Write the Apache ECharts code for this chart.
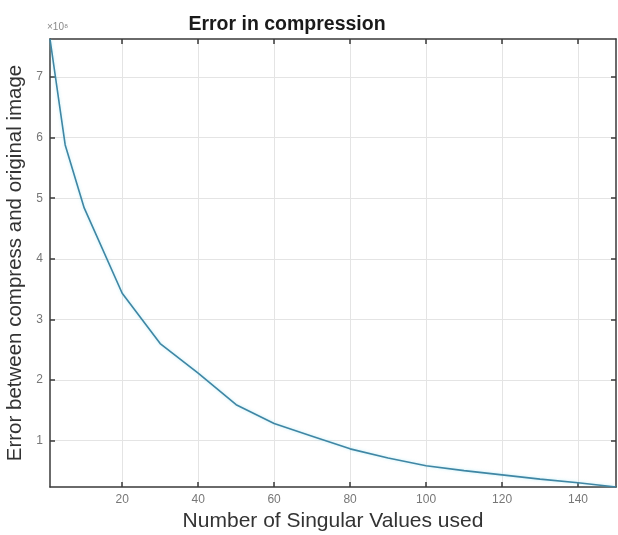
<!DOCTYPE html>
<html>
<head>
<meta charset="utf-8">
<script src="https://cdn.jsdelivr.net/npm/echarts@6/dist/echarts.min.js"></script>
<style>html,body{margin:0;padding:0;background:#fff}#c{width:618px;height:535px}</style>
</head>
<body>
<div id="c"></div>
<script>
// Number of singular values used
const singularValues = [1, 5, 10, 20, 30, 40, 50, 60, 70, 80, 90, 100, 110, 120, 130, 140, 150];
// Error (in units of 1e8)
const errorValues = [7.63, 5.88, 4.84, 3.43, 2.60, 2.11, 1.59, 1.28, 1.07, 0.86, 0.71, 0.58, 0.50, 0.43, 0.36, 0.30, 0.23];
const xTicks = [20, 40, 60, 80, 100, 120, 140];
const yTicks = [1, 2, 3, 4, 5, 6, 7];
const exponentLabel = '×10⁸';

const chart = echarts.init(document.getElementById('c'), null, {renderer: 'canvas'});
const font = '"Liberation Sans", Arial, sans-serif';
const axisCommon = {
  axisLine: {show: true, lineStyle: {color: '#3a3a3a', width: 1.5}},
  axisTick: {show: true, inside: true, length: 5, lineStyle: {color: '#3a3a3a', width: 1.5}}
};
chart.setOption({
  animation: false,
  backgroundColor: '#fff',
  title: {
    text: 'Error in compression',
    left: 282, top: 10, textAlign: 'center',
    textStyle: {fontFamily: font, fontWeight: 'bold', fontSize: 19.5, color: '#1a1a1a'}
  },
  grid: {left: 50, right: 2, top: 39, bottom: 48, containLabel: false, outerBoundsMode: 'none'},
  xAxis: [{
    type: 'value', min: 1, max: 150,
    name: 'Number of Singular Values used', nameLocation: 'middle', nameGap: 21,
    nameTextStyle: {fontFamily: font, fontSize: 21, color: '#333'},
    axisLine: axisCommon.axisLine,
    axisTick: Object.assign({}, axisCommon.axisTick, {customValues: xTicks}),
    axisLabel: {customValues: xTicks, fontFamily: font, fontSize: 12, color: '#777', margin: 7},
    splitLine: {show: true, lineStyle: {color: '#e4e4e4', width: 1}}
  }, {
    type: 'value', min: 1, max: 150, position: 'top',
    axisLine: axisCommon.axisLine,
    axisTick: Object.assign({}, axisCommon.axisTick, {customValues: xTicks}),
    axisLabel: {show: false}, splitLine: {show: false}
  }],
  yAxis: [{
    type: 'value', min: 0.23, max: 7.63,
    name: 'Error between compress and original image', nameLocation: 'middle', nameGap: 15,
    nameTextStyle: {fontFamily: font, fontSize: 20.5, color: '#333'},
    axisLine: axisCommon.axisLine,
    axisTick: Object.assign({}, axisCommon.axisTick, {customValues: yTicks}),
    axisLabel: {customValues: yTicks, fontFamily: font, fontSize: 12, color: '#777', margin: 7},
    splitLine: {show: true, lineStyle: {color: '#e4e4e4', width: 1}}
  }, {
    type: 'value', min: 0.23, max: 7.63, position: 'right',
    axisLine: axisCommon.axisLine,
    axisTick: Object.assign({}, axisCommon.axisTick, {customValues: yTicks}),
    axisLabel: {show: false}, splitLine: {show: false}
  }],
  graphic: [{
    type: 'text', left: 47, top: 22,
    style: {text: exponentLabel, fontFamily: font, fontSize: 10, fill: '#888'}
  }],
  series: [{
    type: 'line',
    data: singularValues.map((x, i) => [x, errorValues[i]]),
    showSymbol: false,
    lineStyle: {color: '#3f86a4', width: 1.6, shadowColor: 'rgba(120,220,240,0.5)', shadowBlur: 3},
    clip: true
  }]
});
</script>
</body>
</html>
